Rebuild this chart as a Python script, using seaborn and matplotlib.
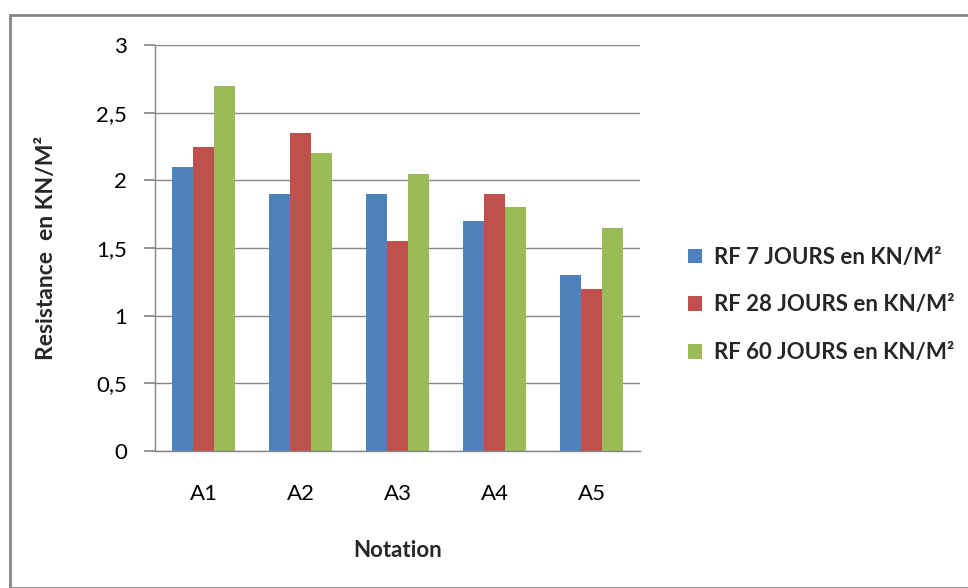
import matplotlib
matplotlib.use("Agg")
import matplotlib.pyplot as plt
import seaborn as sns
import pandas as pd
from matplotlib.patches import Rectangle

categories = ["A1", "A2", "A3", "A4", "A5"]
series_names = ["RF 7 JOURS en KN/M²", "RF 28 JOURS en KN/M²", "RF 60 JOURS en KN/M²"]
rf7 = [2.10, 1.90, 1.90, 1.70, 1.30]
rf28 = [2.25, 2.35, 1.55, 1.90, 1.20]
rf60 = [2.70, 2.20, 2.05, 1.80, 1.65]
yticks = [0, 0.5, 1, 1.5, 2, 2.5, 3]
ytick_labels = ["0", "0,5", "1", "1,5", "2", "2,5", "3"]
colors = ["#4F81BD", "#C0504D", "#9BBB59"]

rows = []
for name, vals in zip(series_names, [rf7, rf28, rf60]):
    for c, v in zip(categories, vals):
        rows.append({"Notation": c, "Serie": name, "Valeur": v})
df = pd.DataFrame(rows)

sns.set_theme(style="white")
plt.rcParams['font.family'] = ['Lato', 'DejaVu Sans']

fig = plt.figure(figsize=(9.68, 5.88), dpi=100)
ax = fig.add_axes([155/968, 1-451/588, (640-155)/968, (451-45)/588])

sns.barplot(data=df, x="Notation", y="Valeur", hue="Serie", palette=colors,
            width=0.656, gap=0, saturation=1, ax=ax, legend=True,
            edgecolor="none", linewidth=0)

ax.set_xlim(-0.5, 4.5)
ax.set_ylim(0, 3)
ax.set_yticks(yticks)
ax.set_yticklabels(ytick_labels)
ax.yaxis.grid(True, color="#868686", linewidth=1)
ax.set_axisbelow(True)
for s in ["top", "right"]:
    ax.spines[s].set_visible(False)
for s in ["left", "bottom"]:
    ax.spines[s].set_color("#868686")
    ax.spines[s].set_linewidth(1)
ax.tick_params(axis="y", which="both", left=True, length=8, color="#868686",
               labelsize=16, pad=12, labelcolor="#000000")
ax.tick_params(axis="x", bottom=False, labelsize=16, pad=18, labelcolor="#000000")

ax.set_xlabel("Notation", fontsize=16, fontweight="bold", labelpad=26)
ax.set_ylabel("Resistance  en KN/M²", fontsize=16.5, fontweight="bold", labelpad=28)

leg = ax.legend(loc="center left", bbox_to_anchor=(668/968, 1-305/588),
                bbox_transform=fig.transFigure, frameon=False,
                fontsize=16, handlelength=0.65, handleheight=0.65,
                handletextpad=0.5, labelspacing=1.2)
for t in leg.get_texts():
    t.set_fontweight("bold")

fig.patches.append(Rectangle((10/968, 0), 1.0, 1-15/588, transform=fig.transFigure,
                             fill=False, edgecolor="#868686", linewidth=2, zorder=0))

fig.savefig("out.png", dpi=100)
